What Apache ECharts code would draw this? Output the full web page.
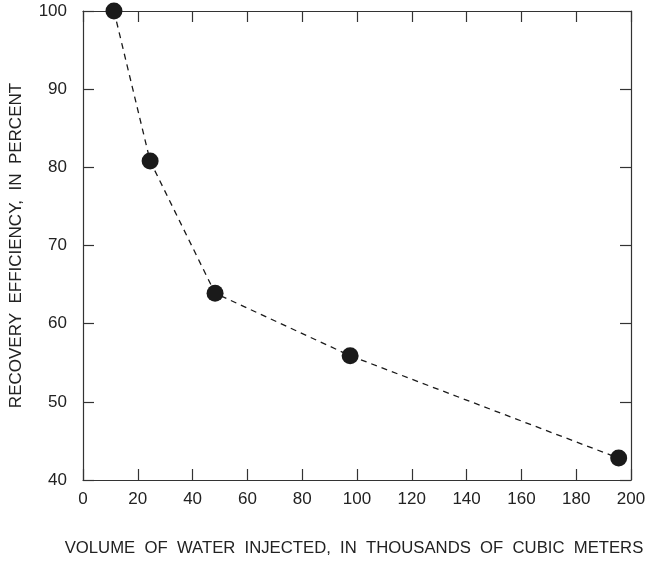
<!DOCTYPE html>
<html><head><meta charset="utf-8">
<script src="https://cdn.jsdelivr.net/npm/echarts@6/dist/echarts.min.js"></script>
<style>html,body{margin:0;padding:0;background:#fff}#c{width:647px;height:562px}</style>
</head><body><div id="c"></div>
<script>
const volume = [11.3, 24.5, 48.2, 97.5, 195.5];
const efficiency = [100, 80.8, 63.9, 55.9, 42.8];
const xTicks = [0, 20, 40, 60, 80, 100, 120, 140, 160, 180, 200];
const yTicks = [40, 50, 60, 70, 80, 90, 100];
const xTitle = 'VOLUME  OF  WATER  INJECTED,  IN  THOUSANDS  OF  CUBIC  METERS';
const yTitle = 'RECOVERY  EFFICIENCY,  IN  PERCENT';

const font = 'Liberation Sans';
const txt = '#222';
const lineC = '#333';
const chart = echarts.init(document.getElementById('c'), null, {renderer: 'canvas'});
const axisBase = {
  axisLine: {show: true, onZero: false, lineStyle: {color: lineC, width: 1.2}},
  axisTick: {show: true, inside: true, length: 11, lineStyle: {color: lineC, width: 1.2}},
  splitLine: {show: false}
};
chart.setOption({
  animation: false,
  grid: {left: 83, right: 16, top: 11, bottom: 82, containLabel: false, outerBoundsMode: 'none'},
  xAxis: [
    Object.assign({}, axisBase, {
      type: 'value', min: xTicks[0], max: xTicks[xTicks.length - 1], interval: 20,
      position: 'bottom',
      axisLabel: {color: txt, fontFamily: font, fontSize: 17, margin: 11},
      name: xTitle, nameLocation: 'middle', nameGap: 60,
      nameTextStyle: {color: txt, fontFamily: font, fontSize: 16.7, padding: [0, 6, 0, 0]}
    }),
    Object.assign({}, axisBase, {
      type: 'value', min: xTicks[0], max: xTicks[xTicks.length - 1], interval: 20,
      position: 'top', axisLabel: {show: false}
    })
  ],
  yAxis: [
    Object.assign({}, axisBase, {
      type: 'value', min: yTicks[0], max: yTicks[yTicks.length - 1], interval: 10,
      position: 'left',
      axisLabel: {color: txt, fontFamily: font, fontSize: 17, margin: 16},
      name: yTitle, nameLocation: 'middle', nameGap: 58,
      nameTextStyle: {color: txt, fontFamily: font, fontSize: 17}
    }),
    Object.assign({}, axisBase, {
      type: 'value', min: yTicks[0], max: yTicks[yTicks.length - 1], interval: 10,
      position: 'right', axisLabel: {show: false}
    })
  ],
  series: [{
    type: 'line',
    data: volume.map((v, i) => [v, efficiency[i]]),
    symbol: 'circle', symbolSize: 17,
    clip: false,
    itemStyle: {color: '#1a1a1a'},
    lineStyle: {color: '#1a1a1a', width: 1.3, type: [6, 5]}
  }]
});
</script></body></html>
